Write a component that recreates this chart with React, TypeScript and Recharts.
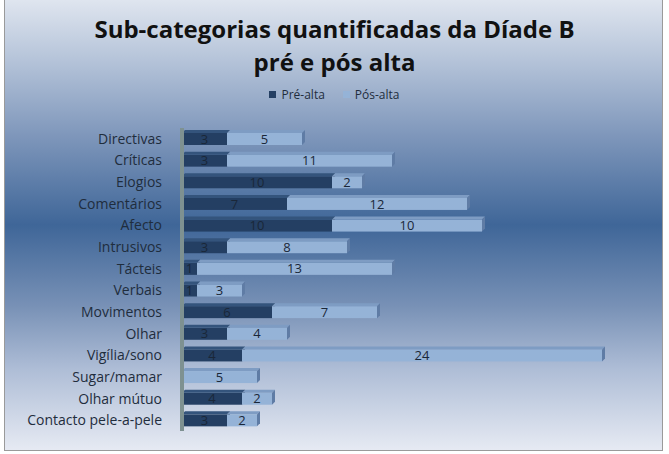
import React from "react";
import { BarChart, Bar, XAxis, YAxis, LabelList } from "recharts";

const CATEGORIES = [
  "Directivas",
  "Críticas",
  "Elogios",
  "Comentários",
  "Afecto",
  "Intrusivos",
  "Tácteis",
  "Verbais",
  "Movimentos",
  "Olhar",
  "Vigília/sono",
  "Sugar/mamar",
  "Olhar mútuo",
  "Contacto pele-a-pele",
];
const PRE_ALTA = [3, 3, 10, 7, 10, 3, 1, 1, 6, 3, 4, 0, 4, 3];
const POS_ALTA = [5, 11, 2, 12, 10, 8, 13, 3, 7, 4, 24, 5, 2, 2];

const SERIES = [
  { key: "pre", name: "Pré-alta", front: "#243f63", top: "#34547c", side: "#1a2f4c" },
  { key: "pos", name: "Pós-alta", front: "#95b3d7", top: "#7e9cc3", side: "#5f7ca5" },
];

const data = CATEGORIES.map((name, i) => ({
  name,
  pre: PRE_ALTA[i],
  pos: POS_ALTA[i],
}));

const FONT = "'Open Sans', 'DejaVu Sans', sans-serif";
const DEPTH = 3;

// flat bar with a small top and right face, like the old 3D office charts
const Bar3D = (colors: { front: string; top: string; side: string }) => (props: any) => {
  const { x, y, width, height } = props;
  if (!width || width <= 0) return <g />;
  const d = DEPTH;
  return (
    <g>
      <rect x={x} y={y} width={width} height={height} fill={colors.front} />
      <polygon
        points={`${x},${y} ${x + d},${y - d} ${x + width + d},${y - d} ${x + width},${y}`}
        fill={colors.top}
      />
      <polygon
        points={`${x + width},${y} ${x + width + d},${y - d} ${x + width + d},${y + height - d} ${x + width},${y + height}`}
        fill={colors.side}
      />
    </g>
  );
};

const hideZero = (v: any) => (Number(v) === 0 ? "" : v);

export default function App() {
  return (
    <div style={{ position: "fixed", left: 0, top: 0, width: 669, height: 454 }}>
      <div
        style={{
          position: "absolute",
          left: 4,
          top: -1,
          width: 657,
          height: 450,
          border: "1px solid #9a9a9a",
          background:
            "linear-gradient(to bottom, #dfe5ef 0%, #b3c2d8 14%, #7f97bb 30%, #3f6698 50%, #7891b6 68%, #aebdd6 82%, #e6eaf3 100%)",
        }}
      />
      <div
        style={{
          position: "absolute",
          left: 0,
          top: 12,
          width: 669,
          textAlign: "center",
          fontFamily: FONT,
          fontWeight: 700,
          fontSize: 24,
          lineHeight: "33px",
          color: "#111",
        }}
      >
        Sub-categorias quantificadas da Díade B
        <br />
        pré e pós alta
      </div>
      <div
        style={{
          position: "absolute",
          left: 0,
          top: 86,
          width: 669,
          display: "flex",
          justifyContent: "center",
          gap: 18,
          fontFamily: FONT,
          fontSize: 12,
          color: "#1f2d3d",
        }}
      >
        {SERIES.map((s) => (
          <span key={s.key} style={{ display: "flex", alignItems: "center", gap: 5 }}>
            <span style={{ width: 7, height: 7, background: s.front, display: "inline-block" }} />
            {s.name}
          </span>
        ))}
      </div>
      <BarChart
        width={669}
        height={454}
        data={data}
        layout="vertical"
        margin={{ top: 128, right: 37, left: 0, bottom: 23 }}
        barSize={12}
        style={{ position: "absolute", left: 0, top: 0 }}
      >
        <XAxis type="number" domain={[0, 30]} hide />
        <YAxis
          type="category"
          dataKey="name"
          width={182}
          interval={0}
          tickLine={false}
          axisLine={{ stroke: "#7e9191", strokeWidth: 4 }}
          tick={{ fontFamily: FONT, fontSize: 14, fill: "#1f2d3d" }}
          tickMargin={14}
        />
        {SERIES.map((s) => (
          <Bar
            key={s.key}
            dataKey={s.key}
            name={s.name}
            stackId="a"
            fill={s.front}
            isAnimationActive={false}
            shape={Bar3D(s)}
          >
            <LabelList
              dataKey={s.key}
              position="center"
              formatter={hideZero}
              style={{ fontFamily: FONT, fontSize: 13, fill: "#1a2738" }}
            />
          </Bar>
        ))}
      </BarChart>
    </div>
  );
}
